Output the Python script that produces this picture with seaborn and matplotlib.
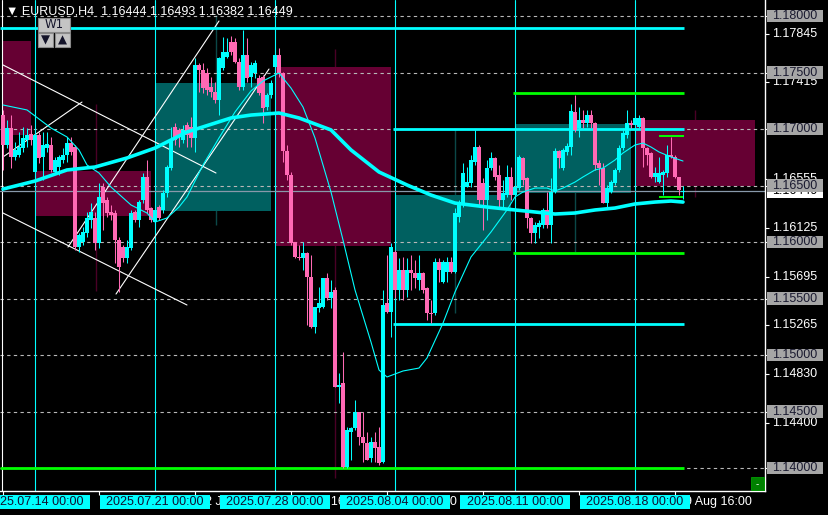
import matplotlib
matplotlib.use("Agg")
import matplotlib.pyplot as plt
from matplotlib.patches import Rectangle
import seaborn as sns
import numpy as np
import pandas as pd

# ---------------- data: EURUSD H4 candles (bar 0 = 2025.07.10 16:00) ----------------
opens = [1.17124, 1.16859, 1.17009, 1.16753, 1.16770, 1.16832, 1.16903, 1.16956, 1.16620, 1.16947,
         1.16753, 1.16832, 1.16859, 1.16620, 1.16664, 1.16726, 1.16770, 1.16876, 1.16841, 1.15956,
         1.16000, 1.16080, 1.16195, 1.16213, 1.15991, 1.16487, 1.16372, 1.16266, 1.16257, 1.16018,
         1.15956, 1.15859, 1.15947, 1.16266, 1.16195, 1.16372, 1.16576, 1.16301, 1.16177, 1.16310,
         1.16284, 1.16434, 1.16655, 1.17018, 1.16992, 1.16903, 1.17036, 1.17018, 1.16921, 1.17567,
         1.17523, 1.17496, 1.17372, 1.17328, 1.17257, 1.17540, 1.17638, 1.17770, 1.17770, 1.17593,
         1.17372, 1.17655, 1.17461, 1.17496, 1.17452, 1.17461, 1.17195, 1.17301, 1.17549, 1.17655,
         1.17496, 1.16806, 1.16593, 1.16000, 1.15868, 1.15859, 1.15903, 1.15691, 1.15248, 1.15416,
         1.15425, 1.15682, 1.15505, 1.15576, 1.14717, 1.14752, 1.14009, 1.14319, 1.14354, 1.14496,
         1.14275, 1.14221, 1.14089, 1.14230, 1.14186, 1.14053, 1.15460, 1.15381, 1.15912, 1.15576,
         1.15753, 1.15576, 1.15753, 1.15726, 1.15664, 1.15726, 1.15593, 1.15372, 1.15372, 1.15823,
         1.15646, 1.15735, 1.15823, 1.15735, 1.16222, 1.16328, 1.16487, 1.16522, 1.16708, 1.16841,
         1.16522, 1.16372, 1.16655, 1.16744, 1.16593, 1.16372, 1.16416, 1.16576, 1.16416, 1.16478,
         1.16744, 1.16567, 1.16213, 1.16080, 1.16133, 1.16151, 1.16284, 1.16151, 1.16443, 1.16806,
         1.16655, 1.16797, 1.16841, 1.17151, 1.17009, 1.17080, 1.17053, 1.17124, 1.17053, 1.16699,
         1.16655, 1.16345, 1.16443, 1.16522, 1.16638, 1.16832, 1.16947, 1.17053, 1.17036, 1.17018,
         1.17098, 1.16832, 1.16788, 1.16576, 1.16531, 1.16593, 1.16611, 1.16770, 1.16753, 1.16576,
         1.16444]
highs = [1.17169, 1.17080, 1.17124, 1.16885, 1.16974, 1.17018, 1.17009, 1.17036, 1.16974, 1.16974,
         1.16974, 1.16974, 1.16930, 1.16753, 1.16770, 1.16832, 1.16930, 1.16930, 1.16859, 1.16080,
         1.16133, 1.16266, 1.16345, 1.16266, 1.16522, 1.16522, 1.16399, 1.16328, 1.16284, 1.16045,
         1.15974, 1.16018, 1.16284, 1.16284, 1.16372, 1.16611, 1.16726, 1.16310, 1.16310, 1.16328,
         1.16461, 1.16682, 1.17018, 1.17053, 1.17009, 1.17036, 1.17062, 1.17107, 1.17629, 1.17584,
         1.17584, 1.17540, 1.17461, 1.17416, 1.17638, 1.17815, 1.17806, 1.17823, 1.17806, 1.17629,
         1.17877, 1.17806, 1.17593, 1.17611, 1.17478, 1.17478, 1.17319, 1.17434, 1.17717, 1.17717,
         1.17505, 1.16859, 1.16620, 1.16000, 1.15974, 1.16000, 1.15912, 1.15885, 1.15425, 1.15602,
         1.15682, 1.15726, 1.15664, 1.15602, 1.14841, 1.15027, 1.14363, 1.14363, 1.14602, 1.14496,
         1.14496, 1.14319, 1.14275, 1.14319, 1.14363, 1.15576, 1.15885, 1.15991, 1.15930, 1.15859,
         1.15868, 1.15859, 1.15885, 1.15841, 1.15885, 1.15735, 1.15602, 1.15487, 1.15859, 1.15859,
         1.15841, 1.15868, 1.15868, 1.16301, 1.16372, 1.16699, 1.16664, 1.16770, 1.16992, 1.16859,
         1.16567, 1.16726, 1.16797, 1.16753, 1.16682, 1.16549, 1.16682, 1.16664, 1.16531, 1.16770,
         1.16753, 1.16576, 1.16222, 1.16177, 1.16195, 1.16301, 1.16443, 1.16567, 1.16832, 1.16815,
         1.16832, 1.16876, 1.17222, 1.17301, 1.17195, 1.17169, 1.17169, 1.17169, 1.17062, 1.16726,
         1.16699, 1.16505, 1.16549, 1.16655, 1.16859, 1.17009, 1.17169, 1.17080, 1.17107, 1.17124,
         1.17107, 1.16841, 1.16797, 1.16664, 1.16753, 1.16638, 1.16859, 1.16930, 1.16770, 1.16576,
         1.16493]
lows = [1.16638, 1.16832, 1.16655, 1.16726, 1.16753, 1.16797, 1.16841, 1.16859, 1.16567, 1.16699,
        1.16549, 1.16797, 1.16620, 1.16620, 1.16593, 1.16699, 1.16708, 1.16770, 1.15930, 1.15912,
        1.15974, 1.16045, 1.16124, 1.15930, 1.15947, 1.16107, 1.16222, 1.16195, 1.15814, 1.15558,
        1.15823, 1.15814, 1.15930, 1.16177, 1.16133, 1.16345, 1.16257, 1.16177, 1.16151, 1.16195,
        1.16257, 1.16399, 1.16638, 1.16859, 1.16841, 1.16876, 1.16841, 1.16841, 1.16797, 1.17328,
        1.17319, 1.17301, 1.17284, 1.17230, 1.17124, 1.17523, 1.17629, 1.17655, 1.17584, 1.17346,
        1.17346, 1.17416, 1.17372, 1.17452, 1.17301, 1.17053, 1.17169, 1.17275, 1.17523, 1.17461,
        1.16708, 1.16549, 1.15974, 1.15859, 1.15841, 1.15753, 1.15266, 1.15239, 1.15195, 1.15381,
        1.15416, 1.15487, 1.15416, 1.14717, 1.14575, 1.14000, 1.14000, 1.14071, 1.14337, 1.14204,
        1.14053, 1.14071, 1.14053, 1.14053, 1.14027, 1.14044, 1.15372, 1.15160, 1.15505, 1.15487,
        1.15487, 1.15514, 1.15576, 1.15593, 1.15576, 1.15549, 1.15310, 1.15283, 1.15354, 1.15646,
        1.15637, 1.15646, 1.15726, 1.15726, 1.16177, 1.16310, 1.16487, 1.16487, 1.16682, 1.16310,
        1.16107, 1.16195, 1.16638, 1.16549, 1.16310, 1.16301, 1.16399, 1.16372, 1.16372, 1.16461,
        1.16505, 1.16124, 1.15991, 1.15991, 1.16036, 1.16124, 1.16124, 1.15991, 1.16434, 1.16655,
        1.16638, 1.16770, 1.16770, 1.16974, 1.16930, 1.17009, 1.17018, 1.17009, 1.16638, 1.16505,
        1.16345, 1.16310, 1.16434, 1.16505, 1.16620, 1.16815, 1.16921, 1.17009, 1.17009, 1.17009,
        1.16664, 1.16682, 1.16567, 1.16531, 1.16522, 1.16416, 1.16576, 1.16744, 1.16567, 1.16416,
        1.16382]
closes = [1.16859, 1.17009, 1.16753, 1.16815, 1.16841, 1.16921, 1.16947, 1.16903, 1.16947, 1.16744,
          1.16859, 1.16868, 1.16638, 1.16726, 1.16753, 1.16770, 1.16876, 1.16797, 1.15956, 1.16062,
          1.16089, 1.16213, 1.16266, 1.15991, 1.16399, 1.16345, 1.16257, 1.16239, 1.16018, 1.15779,
          1.15859, 1.15956, 1.16257, 1.16195, 1.16354, 1.16576, 1.16284, 1.16195, 1.16284, 1.16213,
          1.16434, 1.16664, 1.16903, 1.16903, 1.16930, 1.16992, 1.16947, 1.16921, 1.17567, 1.17523,
          1.17363, 1.17346, 1.17328, 1.17257, 1.17629, 1.17682, 1.17682, 1.17682, 1.17593, 1.17372,
          1.17655, 1.17452, 1.17567, 1.17584, 1.17319, 1.17186, 1.17301, 1.17407, 1.17655, 1.17496,
          1.16806, 1.16593, 1.15991, 1.15868, 1.15859, 1.15903, 1.15691, 1.15248, 1.15425, 1.15460,
          1.15682, 1.15505, 1.15558, 1.14717, 1.14735, 1.14009, 1.14337, 1.14354, 1.14496, 1.14275,
          1.14221, 1.14071, 1.14230, 1.14177, 1.14044, 1.15443, 1.15381, 1.15956, 1.15576, 1.15753,
          1.15576, 1.15753, 1.15726, 1.15682, 1.15726, 1.15576, 1.15372, 1.15363, 1.15823, 1.15753,
          1.15823, 1.15823, 1.15735, 1.16257, 1.16345, 1.16611, 1.16531, 1.16726, 1.16841, 1.16372,
          1.16372, 1.16655, 1.16744, 1.16576, 1.16372, 1.16434, 1.16576, 1.16416, 1.16487, 1.16753,
          1.16549, 1.16213, 1.16080, 1.16151, 1.16168, 1.16284, 1.16151, 1.16443, 1.16806, 1.16744,
          1.16815, 1.16850, 1.17160, 1.16992, 1.17080, 1.17053, 1.17124, 1.17053, 1.16682, 1.16655,
          1.16345, 1.16478, 1.16531, 1.16638, 1.16832, 1.16965, 1.17053, 1.17036, 1.17098, 1.17098,
          1.16832, 1.16770, 1.16576, 1.16611, 1.16611, 1.16620, 1.16770, 1.16753, 1.16576, 1.16461,
          1.16449]

# moving averages (read at selected bars)
slow_ma_bars = [0, 8, 16, 23, 31, 38, 46, 57, 62, 69, 74, 82, 87, 94, 101, 107, 113, 121, 128,
                133, 138, 143, 148, 153, 158, 163, 167, 170]
slow_ma = [1.16469, 1.16540, 1.16638, 1.16664, 1.16744, 1.16832, 1.16974, 1.17098, 1.17124, 1.17142,
           1.17098, 1.16992, 1.16815, 1.16620, 1.16505, 1.16416, 1.16345, 1.16310, 1.16284,
           1.16266, 1.16248, 1.16257, 1.16284, 1.16301, 1.16337, 1.16354, 1.16363, 1.16354]
fast_ma_bars = [0, 6, 12, 16, 19, 21, 24, 27, 32, 36, 38, 41, 44, 46, 50, 54, 58, 62, 65, 67, 69,
                72, 75, 78, 82, 85, 88, 92, 94, 96, 100, 104, 106, 110, 113, 117, 122, 126, 128,
                130, 133, 136, 138, 140, 143, 145, 148, 150, 153, 155, 158, 160, 162, 164, 167, 170]
fast_ma = [1.17213, 1.17169, 1.17009, 1.16930, 1.16815, 1.16682, 1.16611, 1.16487, 1.16328, 1.16257,
           1.16177, 1.16213, 1.16310, 1.16399, 1.16682, 1.16921, 1.17151, 1.17337, 1.17425, 1.17461,
           1.17496, 1.17363, 1.17195, 1.16921, 1.16443, 1.16018, 1.15576, 1.15115, 1.14868, 1.14806,
           1.14859, 1.14885, 1.14974, 1.15283, 1.15558, 1.15868, 1.16089, 1.16284, 1.16399, 1.16443,
           1.16478, 1.16478, 1.16452, 1.16478, 1.16531, 1.16576, 1.16638, 1.16655, 1.16726, 1.16788,
           1.16859, 1.16876, 1.16841, 1.16797, 1.16753, 1.16717]

# weekly boxes
box_start = [0, 8.25, 38, 68.25, 98, 128.25, 158.25]
box_end = [7, 37, 67, 97, 127, 157, 188]
box_top = [1.17779, 1.16629, 1.17407, 1.17549, 1.16416, 1.17045, 1.17080]
box_bottom = [1.16947, 1.16230, 1.16275, 1.15965, 1.15921, 1.16434, 1.16496]
box_kind = ["bear", "bear", "bull", "bear", "bull", "bull", "bear"]

# weekly range markers
wk_bar = [23.25, 53.25, 83, 113, 143, 173]
wk_high = [1.17222, 1.18009, 1.17708, 1.16992, 1.16900, 1.17169]
wk_low = [1.15567, 1.16151, 1.13912, 1.15372, 1.15912, 1.16399]
wk_kind = ["bear", "bull", "bear", "bull", "bull", "bear"]

# trend lines (bar, price) anchors
trend_bar = [(0, 53.25), (0, 46), (16.25, 54), (28.25, 66.5), (0, 19.75)]
trend_price = [(1.17567, 1.16611), (1.16257, 1.15443), (1.15956, 1.17956),
               (1.15540, 1.17531), (1.16753, 1.17239)]

# horizontal levels: price, first bar, last bar, colour
level_price = [1.17894, 1.14000, 1.17319, 1.15903, 1.17000, 1.15275, 1.16938, 1.16399]
level_from = [-0.75, -0.75, 127.5, 127.5, 97.5, 97.5, 163.9, 163.9]
level_to = [170.25, 170.25, 170.25, 170.25, 170.25, 170.25, 170.25, 170.25]
level_color = ["#00ffff", "#00ff00", "#00ff00", "#00ff00", "#00ffff", "#00ffff", "#00ff00", "#00ff00"]

separator_bars = [8, 38, 68, 98, 128, 158]
separator_txt = ["2025.07.14 00:00", "2025.07.21 00:00", "2025.07.28 00:00",
                 "2025.08.04 00:00", "2025.08.11 00:00", "2025.08.18 00:00"]
time_tick_bars = [0, 24, 48, 72, 96, 120, 144, 168]
time_tick_txt = ["10 Jul 16:00", "16 Jul 16:00", "22 Jul 16:00", "28 Jul 16:00",
                 "1 Aug 16:00", "7 Aug 16:00", "13 Aug 16:00", "19 Aug 16:00"]

grid_levels = [1.140, 1.145, 1.150, 1.155, 1.160, 1.165, 1.170, 1.175, 1.180]
scale_levels = [1.17845, 1.17415, 1.16555, 1.16125, 1.15695, 1.15265, 1.14830, 1.14400]
bid = 1.16449

# ---------------- style ----------------
sns.set_theme(style="dark")
plt.rcParams['font.family'] = ['Liberation Sans', 'DejaVu Sans']

W, H = 829, 515
PW, PH = 765, 491
YMIN, YMAX = 1.13797, 1.18142
PPX = (YMAX - YMIN) / PH

CYAN = "#00ffff"
PINK = "#ff69b4"
MAROON = "#660033"
TEAL = "#006060"

fig = plt.figure(figsize=(W / 100, H / 100), dpi=100, facecolor="black")
ax = fig.add_axes([0, (H - PH) / H, PW / W, PH / H])
ax.set_facecolor("black")
ax.set_xlim(-0.75, 190.5)
ax.set_ylim(YMIN, YMAX)
ax.grid(False)

df = pd.DataFrame({"open": opens, "high": highs, "low": lows, "close": closes})
df["bar"] = np.arange(len(df))
df["up"] = df["close"] >= df["open"]
cols = np.where(df["up"], CYAN, PINK)

# boxes + weekly marker lines
for s, e, t, b, k in zip(box_start, box_end, box_top, box_bottom, box_kind):
    ax.add_patch(Rectangle((s, b), e - s, t - b, fc=MAROON if k == "bear" else TEAL,
                           ec="none", zorder=1))
for xb, hi, lo, k in zip(wk_bar, wk_high, wk_low, wk_kind):
    ax.vlines(xb, lo, hi, color="#4a0026" if k == "bear" else "#0b4848", lw=1, zorder=0.8)

# grid
for g in grid_levels:
    ax.axhline(g, color="#b8b8b8", lw=0.8, ls=(0, (3, 3)), zorder=1.5)

# separators
for sb in separator_bars:
    ax.axvline(sb, color=CYAN, lw=0.8, zorder=2)
ax.axvline(-0.25, color="white", lw=0.8, zorder=2)

# bid line
ax.axhline(bid, color="#8899aa", lw=0.9, zorder=2)

# trend lines
for (b0, b1), (p0, p1) in zip(trend_bar, trend_price):
    ax.plot([b0, b1], [p0, p1], color="white", lw=0.8, zorder=3)

# levels
for p, f, t, c in zip(level_price, level_from, level_to, level_color):
    lw = 1.4 if f > 160 else 2.0
    ax.plot([f, t], [p, p], color=c, lw=lw, solid_capstyle="butt", zorder=3.5)

# candles
ax.vlines(df["bar"], df["low"], df["high"], colors=cols, lw=0.75, zorder=4)
body_lo = df[["open", "close"]].min(axis=1)
body_h = (df["open"] - df["close"]).abs().clip(lower=PPX)
ax.bar(df["bar"], body_h, bottom=body_lo, width=0.78, color=cols, lw=0, zorder=4.5,
       antialiased=False)

# moving averages
sns.lineplot(x=fast_ma_bars, y=fast_ma, ax=ax, color=CYAN, lw=0.8, zorder=5,
             estimator=None, sort=False)
sns.lineplot(x=slow_ma_bars, y=slow_ma, ax=ax, color=CYAN, lw=2.6, zorder=5.5,
             estimator=None, sort=False)

# axes frame
for sp in ["left", "top"]:
    ax.spines[sp].set_visible(False)
for sp in ["right", "bottom"]:
    ax.spines[sp].set_color("white")
    ax.spines[sp].set_linewidth(1)
ax.set_yticks(grid_levels + scale_levels)
ax.set_xticks(time_tick_bars)
ax.tick_params(axis="y", left=False, right=True, labelleft=False, labelright=False,
               length=3, width=0.8, color="white", direction="out")
ax.tick_params(axis="x", bottom=True, labelbottom=False, length=3, width=0.8,
               color="white", direction="out")
ax.set_xlabel("")
ax.set_ylabel("")

ytr = ax.get_yaxis_transform()
xtr = ax.get_xaxis_transform()
FS = 9

# right price scale
for v in scale_levels:
    ax.text(1.0095, v, f"{v:.5f}", transform=ytr, color="white", fontsize=FS,
            va="center", ha="left", clip_on=False, zorder=10)
ax.add_patch(Rectangle((1.0026, bid - 6.5 * PPX), 0.073, 13 * PPX, transform=ytr,
                       fc="white", ec="none", clip_on=False, zorder=11))
ax.text(1.0095, bid, f"{bid:.5f}", transform=ytr, color="black", fontsize=FS,
        va="center", ha="left", clip_on=False, zorder=12)
for g in grid_levels:
    ax.add_patch(Rectangle((1.0026, g - 6 * PPX), 0.073, 12.5 * PPX, transform=ytr,
                           fc="#a6a6a6", ec="none", clip_on=False, zorder=13))
    ax.text(1.0095, g, f"{g:.5f}", transform=ytr, color="#1a1a30", fontsize=FS,
            va="center", ha="left", clip_on=False, zorder=14)

# time axis
for tb, tt in zip(time_tick_bars, time_tick_txt):
    ax.text(tb + 0.8, -0.023, tt, transform=xtr, color="white", fontsize=FS,
            va="center", ha="left", clip_on=False, zorder=10)
for sb, st in zip(separator_bars, separator_txt):
    ax.add_patch(Rectangle((sb - 13.75, -0.0367), 27.5, 0.0285, transform=xtr,
                           fc=CYAN, ec="none", clip_on=False, zorder=11))
    ax.text(sb, -0.023, st, transform=xtr, color="#101030", fontsize=FS,
            va="center", ha="center", clip_on=False, zorder=12)


def px(x, y):
    return x / PW, 1 - y / PH


# title
ax.text(*px(6, 12), "\u25bc EURUSD,H4  1.16444 1.16493 1.16382 1.16449", transform=ax.transAxes,
        color="white", fontsize=FS, va="center", ha="left", zorder=12,
        family=["Liberation Sans", "DejaVu Sans"])

# W1 panel
for (x0, y0, x1, y1, t) in [(38, 18, 70, 32, "W1"), (38, 33, 53, 47, "\u25bc"), (55, 33, 70, 47, "\u25b2")]:
    bx, by = px(x0, y1)
    ax.add_patch(Rectangle((bx, by), (x1 - x0) / PW, (y1 - y0) / PH, transform=ax.transAxes,
                           fc="#c4c4c4", ec="#8a8a8a", lw=0.8, zorder=12))
    cx, cy = px((x0 + x1) / 2, (y0 + y1) / 2)
    ax.text(cx, cy, t, transform=ax.transAxes, color="#14142a", fontsize=8.5,
            ha="center", va="center", zorder=13, family=["DejaVu Sans"])

# small green corner box
fig.add_artist(Rectangle((751 / W, 1 - 490 / H), 13 / W, 13 / H, transform=fig.transFigure,
                         fc="#008000", ec="#00a000", lw=0.6))
fig.text(757.5 / W, 1 - 484 / H, "-", color="white", fontsize=7, ha="center", va="center")

fig.savefig("out.png", dpi=100, facecolor="black")
